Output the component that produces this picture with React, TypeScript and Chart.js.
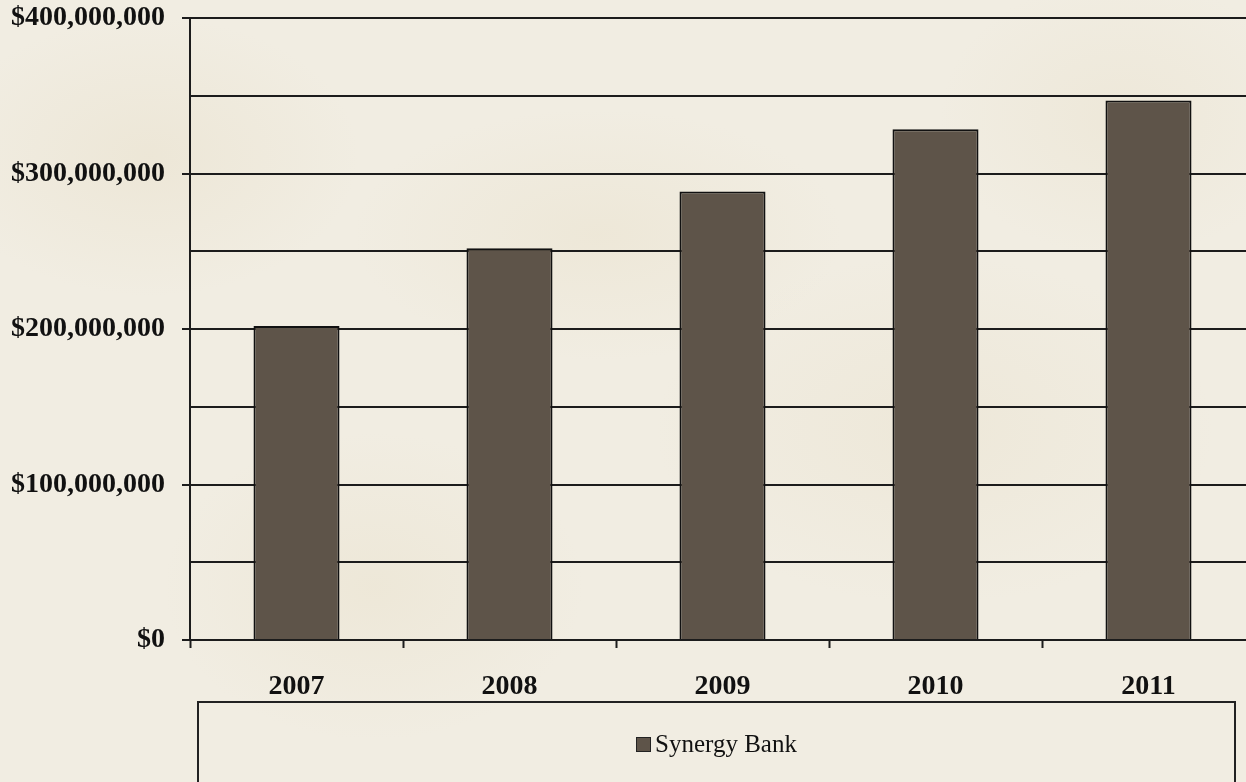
import React, { useEffect, useRef } from "react";
import { Chart, registerables } from "chart.js";

Chart.register(...registerables);

const years = ["2007", "2008", "2009", "2010", "2011"];
const deposits = [202000000, 252000000, 288500000, 328500000, 347000000];
const seriesName = "Synergy Bank";
const yMin = 0;
const yMax = 400000000;
const yStep = 50000000;
const yLabelStep = 100000000;

const BAR_COLOR = "#5E5449";
const LINE_COLOR = "#1c1c1c";
const FONT = "'Liberation Serif', 'Times New Roman', serif";

export default function App() {
  const canvasRef = useRef<HTMLCanvasElement | null>(null);

  useEffect(() => {
    const canvas = canvasRef.current;
    if (!canvas) return;
    const chart = new Chart(canvas, {
      type: "bar",
      data: {
        labels: years,
        datasets: [
          {
            label: seriesName,
            data: deposits,
            backgroundColor: BAR_COLOR,
            borderColor: "#111",
            borderWidth: 2,
            categoryPercentage: 1,
            barPercentage: 0.404,
          },
        ],
      },
      options: {
        responsive: false,
        animation: false,
        layout: { padding: { left: 0, right: 5, top: 18, bottom: 81 } },
        plugins: {
          legend: { display: false },
          tooltip: { enabled: false },
        },
        scales: {
          x: {
            grid: {
              display: true,
              drawOnChartArea: false,
              drawTicks: true,
              tickLength: 8,
              tickWidth: 2,
              tickColor: LINE_COLOR,
              offset: true,
            },
            border: { display: true, color: LINE_COLOR, width: 2 },
            ticks: {
              color: "#111",
              padding: 22,
              font: { family: FONT, size: 28, weight: "bold" },
            },
            afterFit: (scale: any) => {
              scale.height = 61;
              scale.paddingLeft = 0;
              scale.paddingRight = 0;
            },
          },
          y: {
            min: yMin,
            max: yMax,
            grid: {
              color: LINE_COLOR,
              lineWidth: 2,
              drawTicks: true,
              tickLength: 8,
              tickWidth: 2,
              tickColor: (ctx: any) =>
                ctx.tick && ctx.tick.value % yLabelStep === 0 ? LINE_COLOR : "rgba(0,0,0,0)",
            },
            border: { display: true, color: LINE_COLOR, width: 2 },
            ticks: {
              stepSize: yStep,
              color: "#111",
              padding: 17,
              font: { family: FONT, size: 28, weight: "bold" },
              callback: (v: any) =>
                Number(v) % yLabelStep === 0 ? "$" + Number(v).toLocaleString("en-US") : "",
            },
            afterFit: (scale: any) => {
              scale.width = 190;
              scale.paddingTop = 0;
              scale.paddingBottom = 0;
            },
          },
        },
      },
    });
    return () => chart.destroy();
  }, []);

  const bg =
    "radial-gradient(ellipse 300px 200px at 12% 20%, rgba(222,208,175,0.22), transparent 70%)," +
    "radial-gradient(ellipse 350px 180px at 48% 30%, rgba(225,212,180,0.22), transparent 70%)," +
    "radial-gradient(ellipse 400px 250px at 75% 55%, rgba(222,208,175,0.18), transparent 70%)," +
    "radial-gradient(ellipse 300px 220px at 30% 75%, rgba(225,212,180,0.22), transparent 70%)," +
    "radial-gradient(ellipse 260px 200px at 90% 15%, rgba(222,208,175,0.18), transparent 70%)," +
    "#F1EDE2";

  return (
    <div
      style={{
        position: "fixed",
        left: 0,
        top: 0,
        width: 1246,
        height: 782,
        overflow: "hidden",
        background: bg,
      }}
    >
      <canvas
        ref={canvasRef}
        width={1260}
        height={782}
        style={{ position: "absolute", left: 0, top: 0, width: 1260, height: 782 }}
      />
      <div
        style={{
          position: "absolute",
          left: 197,
          top: 701,
          width: 1039,
          height: 120,
          border: "2px solid #222",
          boxSizing: "border-box",
        }}
      >
        <div
          style={{
            position: "absolute",
            left: 0,
            right: 0,
            top: 27,
            display: "flex",
            justifyContent: "center",
            alignItems: "center",
            fontFamily: FONT,
            fontSize: 25,
            color: "#111",
          }}
        >
          <span
            style={{
              display: "inline-block",
              width: 13,
              height: 13,
              background: BAR_COLOR,
              border: "1.5px solid #222",
              marginRight: 4,
            }}
          />
          <span>{seriesName}</span>
        </div>
      </div>
    </div>
  );
}
